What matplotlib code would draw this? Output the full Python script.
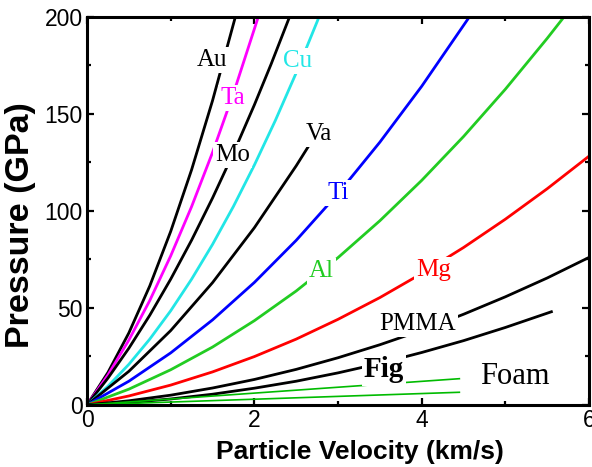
"""衝撃圧縮曲線 (Hugoniot) : 粒子速度 vs 圧力 を材料ごとに描く。"""

import matplotlib

matplotlib.use("Agg")
import matplotlib.pyplot as plt
import numpy as np

plt.rcParams["font.family"] = ["Liberation Sans", "DejaVu Sans"]

# 粒子速度 (km/s) と 圧力 (GPa)
au_u = [0, 0.25, 0.5, 0.75, 1.0, 1.25, 1.5, 1.77, 1.78]
au_p = [0, 16.7, 37.1, 61.3, 89.4, 121.2, 156.8, 199.5, 201]

ta_u = [0, 0.25, 0.5, 0.75, 1.0, 1.25, 1.5, 1.75, 2.05]
ta_p = [0, 15.4, 33.4, 53.8, 76.8, 102.2, 130.1, 160.5, 200.4]

mo_u = [0, 0.25, 0.5, 0.75, 1.0, 1.25, 1.5, 1.75, 2.0, 2.2, 2.42]
mo_p = [0, 13.8, 29.2, 46.2, 64.8, 84.9, 106.6, 129.8, 154.6, 175.6, 199.9]

cu_u = [0, 0.25, 0.5, 0.75, 1.0, 1.25, 1.5, 1.75, 2.0, 2.25, 2.5, 2.77]
cu_p = [0, 9.6, 20.9, 33.9, 48.5, 64.8, 82.7, 102.3, 123.6, 146.5, 171.1, 199.6]

va_u = [0, 0.5, 1.0, 1.5, 2.0, 2.5, 2.65]
va_p = [0, 17.3, 38.3, 63.0, 91.3, 123.2, 133.5]

ti_u = [0, 0.5, 1.0, 1.5, 2.0, 2.5, 3.0, 3.5, 4.0, 4.58]
ti_p = [0, 12.2, 26.8, 43.8, 63.1, 84.8, 108.9, 135.4, 164.2, 200.6]

al_u = [0, 0.5, 1.0, 1.5, 2.0, 2.5, 3.0, 3.5, 4.0, 4.5, 5.0, 5.5, 5.72]
al_p = [0, 8.1, 18.1, 29.8, 43.4, 58.7, 75.9, 94.9, 115.7, 138.3, 162.7, 188.9, 201]

mg_u = [0, 0.5, 1.0, 1.5, 2.0, 2.5, 3.0, 3.5, 4.0, 4.5, 5.0, 5.5, 6.0]
mg_p = [0, 4.6, 10.2, 17.0, 24.9, 33.9, 44.1, 55.3, 67.7, 81.1, 95.7, 111.4, 128.2]

pmma_u = [0, 0.5, 1.0, 1.5, 2.0, 2.5, 3.0, 3.5, 4.0, 4.5, 5.0, 5.5, 6.0]
pmma_p = [0, 2.1, 5.0, 8.7, 13.1, 18.3, 24.3, 31.0, 38.4, 46.7, 55.7, 65.4, 76.0]

fig_u = [0, 0.5, 1.0, 1.5, 2.0, 2.5, 3.0, 3.5, 4.0, 4.5, 5.0, 5.55]
fig_p = [0, 1.2, 3.05, 5.5, 8.6, 12.2, 16.5, 21.4, 27.0, 33.1, 39.9, 48.0]

foam1_u = [0, 4.45]
foam1_p = [0, 13.5]
foam2_u = [0, 4.45]
foam2_p = [0, 6.5]

# ラベル文字列
labels = ["Au", "Ta", "Cu", "Mo", "Va", "Ti", "Al", "Mg", "PMMA", "Fig", "Foam"]


def main() -> None:
    fig, ax = plt.subplots(figsize=(5.92, 4.67), dpi=100)
    fig.subplots_adjust(left=0.147, right=0.995, bottom=0.133, top=0.964)

    lw = 2.0
    ax.plot(au_u, au_p, color="black", lw=lw)
    ax.plot(ta_u, ta_p, color="#ff00ff", lw=lw)
    ax.plot(mo_u, mo_p, color="black", lw=lw)
    ax.plot(cu_u, cu_p, color="#22e6e6", lw=lw)
    ax.plot(va_u, va_p, color="black", lw=lw)
    ax.plot(ti_u, ti_p, color="#0000ff", lw=lw)
    ax.plot(al_u, al_p, color="#22cc22", lw=lw)
    ax.plot(mg_u, mg_p, color="#ff0000", lw=lw)
    ax.plot(pmma_u, pmma_p, color="black", lw=lw)
    ax.plot(fig_u, fig_p, color="black", lw=lw)
    ax.plot(foam1_u, foam1_p, color="#00bb00", lw=1.2)
    ax.plot(foam2_u, foam2_p, color="#00bb00", lw=1.2)

    # 曲線上のラベル (白抜きで線を切る)
    serif = ["Liberation Serif", "DejaVu Serif"]
    box = dict(facecolor="white", edgecolor="none", pad=1.5)
    kw = dict(family=serif, fontsize=18, ha="center", va="center", zorder=5)
    ax.text(1.49, 177.8, labels[0], color="black", bbox=box, **kw)
    ax.text(1.74, 158, labels[1], color="#ff00ff", bbox=box, **kw)
    ax.text(2.52, 177, labels[2], color="#22e6e6", bbox=box, **kw)
    ax.text(1.74, 129, labels[3], color="black", bbox=box, **kw)
    ax.text(2.77, 139.7, labels[4], color="black", bbox=box, **kw)
    ax.text(3.0, 109, labels[5], color="#0000ff", bbox=box, **kw)
    ax.text(2.80, 69, labels[6], color="#22cc22", bbox=box, **kw)
    ax.text(4.14, 69.6, labels[7], color="#ff0000", bbox=box, **kw)
    ax.text(3.95, 41.8, labels[8], color="black", bbox=box, **kw)
    ax.text(3.55, 18, labels[9], color="black", bbox=box,
            family=serif, fontsize=21, fontweight="bold",
            ha="center", va="center", zorder=5)
    ax.text(5.11, 14.4, labels[10], color="black",
            family=serif, fontsize=22, ha="center", va="center", zorder=5)

    ax.set_xlim(0, 6)
    ax.set_ylim(0, 200)
    ax.set_xticks([0, 2, 4, 6])
    ax.set_xticks([1, 3, 5], minor=True)
    ax.set_yticks([0, 50, 100, 150, 200])
    ax.set_yticks([25, 75, 125, 175], minor=True)
    ax.tick_params(which="both", direction="in", top=True, right=True,
                   labelsize=16.5, pad=3)
    ax.tick_params(which="major", length=5, width=1.6)
    ax.tick_params(which="minor", length=3, width=1.6)
    for sp in ax.spines.values():
        sp.set_linewidth(2.2)

    ax.set_xlabel("Particle Velocity (km/s)", fontsize=19, fontweight="bold")
    ax.set_ylabel("Pressure (GPa)", fontsize=24.5, fontweight="bold")
    ax.xaxis.set_label_coords(0.544, -0.091)
    ax.yaxis.set_label_coords(-0.101, 0.464)

    fig.savefig("out.png", dpi=100)


if __name__ == "__main__":
    main()
